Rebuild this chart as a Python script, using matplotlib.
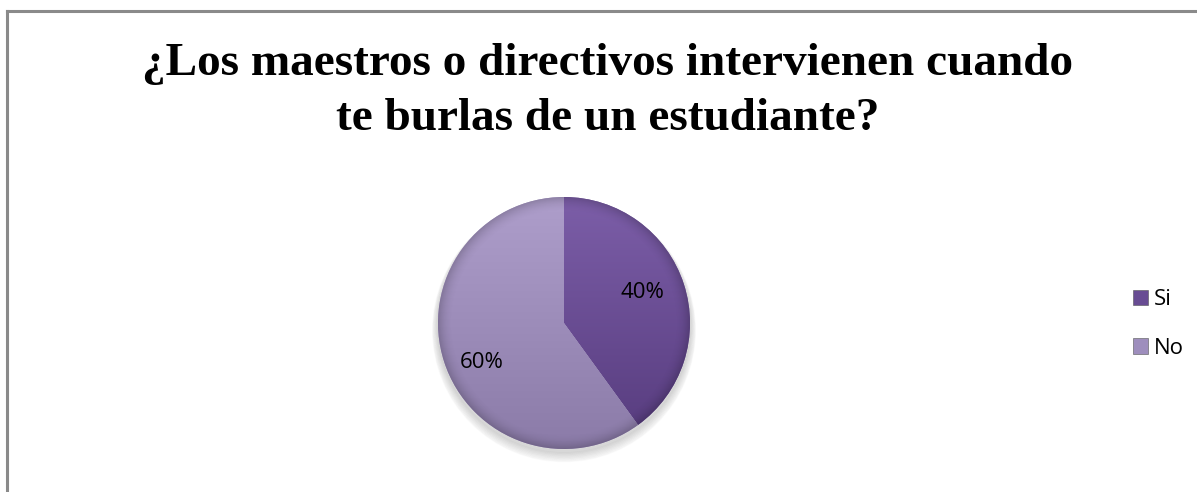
import numpy as np
import matplotlib
matplotlib.use("Agg")
import matplotlib.pyplot as plt
from matplotlib.patches import Patch
from matplotlib.lines import Line2D

title_lines = ["¿Los maestros o directivos intervienen cuando", "te burlas de un estudiante?"]
categories = ["Si", "No"]
values = [40, 60]

top_colors = ["#7c5ea8", "#ae9ecb"]
bot_colors = ["#563b7d", "#8b7ba8"]
face_colors = ["#684c93", "#9e8ebd"]

W, H = 1197, 492
fig = plt.figure(figsize=(W / 100, H / 100), dpi=100)
fig.patch.set_facecolor("white")

# partial border (top and left visible)
fig.add_artist(Line2D([6.5 / W, 6.5 / W], [0, 1 - 10.5 / H], color="#8a8a8a", lw=2.2, transform=fig.transFigure))
fig.add_artist(Line2D([6.5 / W, 1], [1 - 10.5 / H, 1 - 10.5 / H], color="#8a8a8a", lw=2.2, transform=fig.transFigure))

for line, base in zip(title_lines, [75, 130]):
    fig.text(608 / W, 1 - base / H, line, ha="center", va="baseline", fontsize=34,
             fontweight="bold", family="Liberation Serif")

cx, cy, r = 564, 323, 126
half = 150
ax = fig.add_axes([(cx - half) / W, (H - cy - half) / H, 2 * half / W, 2 * half / H])

# soft shadow
for k in range(8):
    sh = plt.Circle((0.0, -0.03 - k * 0.004), 1.0 + k * 0.006, color="black", alpha=0.018, zorder=0)
    ax.add_patch(sh)

wedges, _ = ax.pie(values, startangle=90, counterclock=False, radius=1.0,
                   colors=face_colors, wedgeprops=dict(linewidth=0.6, edgecolor="#ffffff33"))

for w, c1, c2 in zip(wedges, top_colors, bot_colors):
    c1 = np.array(matplotlib.colors.to_rgb(c1))
    c2 = np.array(matplotlib.colors.to_rgb(c2))
    t = np.linspace(0, 1, 256)[:, None]
    grad = (c1[None, :] * (1 - t) + c2[None, :] * t)
    img = np.repeat(grad[:, None, :], 2, axis=1)
    im = ax.imshow(img, extent=[-1, 1, -1, 1], origin="upper", zorder=2, aspect="auto")
    im.set_clip_path(w)
    yy, xx = np.mgrid[-1:1:300j, -1:1:300j]
    rr = np.sqrt(xx ** 2 + yy ** 2)
    a = np.clip((rr - 0.88) / 0.12, 0, 1) ** 2 * 0.18
    ov = np.zeros((300, 300, 4))
    ov[..., 3] = a
    im2 = ax.imshow(ov, extent=[-1, 1, -1, 1], origin="lower", zorder=3, aspect="auto")
    im2.set_clip_path(w)
ax.set_xlim(-half / r, half / r)
ax.set_ylim(-half / r, half / r)
ax.set_aspect("equal")
ax.axis("off")

# percentage labels
label_px = [(642, 292), (482, 362)]
total = sum(values)
for v, (px, py) in zip(values, label_px):
    ax.text((px - cx) / r, (cy - py) / r, f"{round(100 * v / total)}%", ha="center", va="center",
            fontsize=16, family="Open Sans", color="black", zorder=5)

handles = [Patch(facecolor=c, edgecolor="#555555", linewidth=0.4) for c in face_colors]
leg = fig.legend(handles, categories, loc="center left", bbox_to_anchor=(1117 / W, 1 - 324 / H),
                 frameon=False, prop=dict(family="Open Sans", size=16), handlelength=0.7,
                 handleheight=0.7, handletextpad=0.25, labelspacing=1.25, borderpad=0.2)

fig.savefig("out.png", dpi=100, facecolor="white")
